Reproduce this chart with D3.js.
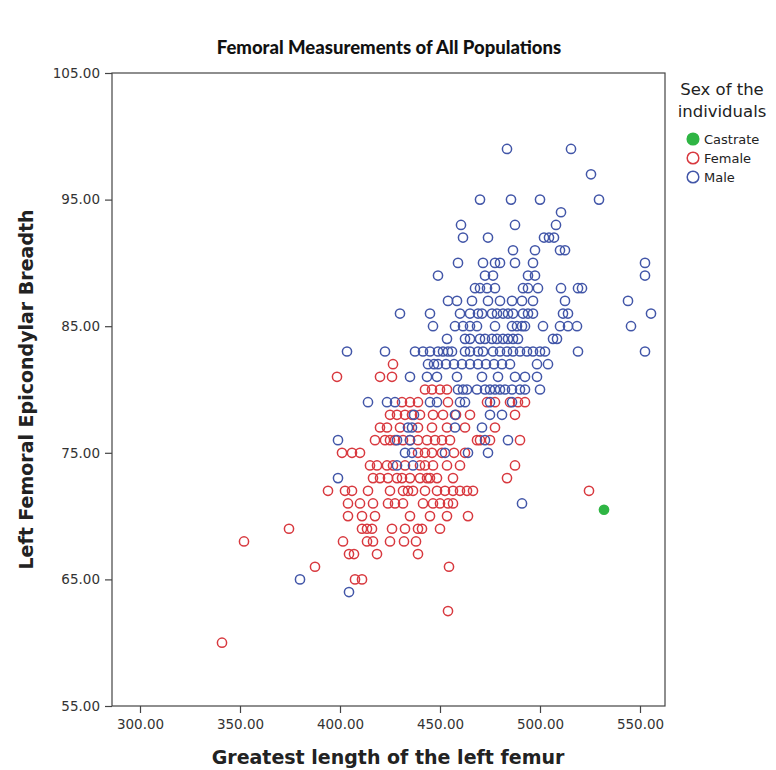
<!DOCTYPE html>
<html>
<head>
<meta charset="utf-8">
<script src="https://cdn.jsdelivr.net/npm/d3@7"></script>
<style>
  html, body { margin: 0; padding: 0; background: #fff; }
  svg { display: block; }
</style>
</head>
<body>
<div id="chart"></div>
<script>
// Greatest length of the left femur (mm) vs left femoral epicondylar breadth (mm)
const male = [
  [483.5,99],[515.5,99],
  [525.5,97],
  [470,95],[485.5,95],[500,95],[529.5,95],
  [510.5,94],
  [460.5,93],[487.5,93],[508,93],
  [461.5,92],[474,92],[502,92],[504.5,92],[507,92],
  [486.5,91],[497.5,91],[510,91],[512.5,91],
  [459,90],[471.5,90],[477.5,90],[480,90],[487.5,90],[496.5,90],[552.5,90],
  [449,89],[472.5,89],[476.5,89],[494,89],[497.5,89],[552.5,89],
  [467.5,88],[470,88],[473.5,88],[477.5,88],[491.5,88],[494,88],[499,88],[510.5,88],[519,88],[521,88],
  [454,87],[458.5,87],[466,87],[474,87],[480,87],[486,87],[491,87],[496.5,87],[512.5,87],[544,87],
  [430,86],[445,86],[460,86],[465,86],[469,86],[471,86],[476,86],[478.5,86],[481.5,86],[484,86],[486.5,86],[491.5,86],[494,86],[496.5,86],[511.5,86],[514,86],[555.5,86],
  [446.5,85],[457.5,85],[461.5,85],[465,85],[468.5,85],[477.5,85],[486,85],[488.5,85],[491,85],[492.5,85],[501.5,85],[510,85],[514,85],[518.5,85],[545.5,85],
  [453.5,84],[462.5,84],[465,84],[470,84],[472.5,84],[476,84],[478.5,84],[481.5,84],[484,84],[486.5,84],[489,84],[506.5,84],[508.5,84],
  [403.5,83],[422.5,83],[437.5,83],[441.5,83],[445,83],[449,83],[451.5,83],[454,83],[456,83],[462.5,83],[465,83],[469,83],[471.5,83],[476.5,83],[480,83],[483.5,83],[486.5,83],[490,83],[493.5,83],[496.5,83],[500,83],[502.5,83],[519,83],[552.5,83],
  [444,82],[447,82],[449,82],[453,82],[457,82],[461,82],[465,82],[469,82],[473,82],[477,82],[481,82],[485,82],[498.5,82],[504,82],
  [435,81],[443.5,81],[448.5,81],[458.5,81],[471,81],[479,81],[487.5,81],[492.5,81],[498.5,81],
  [459,80],[461.5,80],[463.5,80],[468.5,80],[472.5,80],[475,80],[477.5,80],[480,80],[482.5,80],[486,80],[490,80],[492.5,80],[500,80],
  [414,79],[423.5,79],[427.5,79],[445,79],[448.5,79],[460,79],[462.5,79],[475,79],[486,79],
  [437,78],[457.5,78],[475,78],[481,78],
  [434,77],[436,77],[457.5,77],[471,77],
  [399,76],[428.5,76],[435,76],[472.5,76],[484,76],
  [432.5,75],[436,75],[452.5,75],[464,75],[474,75],
  [428.5,74],[436.5,74],
  [399,73],
  [491,71],
  [380,65],
  [404.5,64]
];

const female = [
  [426.5,82],
  [398.5,81],[420,81],[426,81],
  [442.5,80],[446,80],[450,80],[453.5,80],
  [431,79],[435,79],[439,79],[454,79],[473.5,79],[477.5,79],[485,79],[489,79],[492.5,79],
  [425,78],[428.5,78],[432.5,78],[436,78],[440,78],[446.5,78],[451.5,78],[458,78],[465,78],[487.5,78],
  [420,77],[423.5,77],[430,77],[439,77],[446,77],[453.5,77],[462.5,77],[477.5,77],
  [417.5,76],[422.5,76],[425,76],[427.5,76],[431.5,76],[435,76],[439,76],[443.5,76],[447.5,76],[451,76],[455,76],[468.5,76],[470,76],[475,76],[490,76],
  [401,75],[406,75],[410,75],[439,75],[442.5,75],[446,75],[451,75],[457,75],[462.5,75],
  [415,74],[418.5,74],[423.5,74],[426.5,74],[432.5,74],[440,74],[442.5,74],[446.5,74],[453.5,74],[460,74],[487.5,74],
  [416.5,73],[420,73],[424,73],[428.5,73],[431,73],[435,73],[440,73],[443.5,73],[445,73],[448.5,73],[456.5,73],[483.5,73],
  [394,72],[402.5,72],[406,72],[414,72],[425,72],[431.5,72],[434,72],[436.5,72],[442.5,72],[448.5,72],[452.5,72],[456.5,72],[460,72],[463.5,72],[466.5,72],[524.5,72],
  [404,71],[410,71],[416.5,71],[424,71],[427.5,71],[431.5,71],[441.5,71],[446.5,71],[450,71],[454,71],[456.5,71],
  [404,70],[411,70],[417.5,70],[435,70],[445,70],[453.5,70],[464,70],
  [374.5,69],[411,69],[413.5,69],[416,69],[426,69],[432.5,69],[439,69],[441,69],[450,69],
  [352,68],[401.5,68],[413.5,68],[416.5,68],[425,68],[432,68],[438,68],
  [404.5,67],[407,67],[418.5,67],[439,67],
  [387.5,66],[454.5,66],
  [407.5,65],[411,65],
  [454,62.5],
  [341,60]
];

const castrate = [
  [532,70.5]
];

const xTicks = [300, 350, 400, 450, 500, 550];
const yTicks = [55, 65, 75, 85, 95, 105];
const legendTitle = ["Sex of the", "individuals"];
const groups = [
  { name: "Castrate", data: castrate, color: "#2fb544", filled: true },
  { name: "Female",   data: female,   color: "#d8393f", filled: false },
  { name: "Male",     data: male,     color: "#4256a8", filled: false }
];

const W = 776, H = 770;
const plot = { left: 112, right: 665, top: 73, bottom: 706 };

const svg = d3.select("#chart").append("svg")
  .attr("width", W).attr("height", H);

const x = d3.scaleLinear().domain([286, 562.5]).range([plot.left, plot.right]);
const y = d3.scaleLinear().domain([55, 105]).range([plot.bottom, plot.top]);
const fmt = d3.format(".2f");

// Title
svg.append("text")
  .attr("x", 389).attr("y", 54)
  .attr("text-anchor", "middle")
  .style("font-family", "Lato, 'Open Sans', sans-serif")
  .style("font-weight", "900")
  .style("font-size", "18.5px")
  .attr("fill", "#111")
  .text("Femoral Measurements of All Populations");

// Axes
const xAxis = svg.append("g")
  .attr("transform", `translate(0,${plot.bottom})`)
  .call(d3.axisBottom(x).tickValues(xTicks).tickFormat(fmt).tickSize(7).tickPadding(6));
const yAxis = svg.append("g")
  .attr("transform", `translate(${plot.left},0)`)
  .call(d3.axisLeft(y).tickValues(yTicks).tickFormat(fmt).tickSize(7).tickPadding(5));

[xAxis, yAxis].forEach(g => {
  g.select(".domain").remove();
  g.selectAll(".tick line").attr("stroke", "#444").attr("stroke-width", 1.2);
  g.selectAll(".tick text")
    .style("font-family", "'DejaVu Sans', sans-serif")
    .style("font-size", "13.5px")
    .attr("fill", "#333");
});

// Plot frame
svg.append("rect")
  .attr("x", plot.left).attr("y", plot.top)
  .attr("width", plot.right - plot.left).attr("height", plot.bottom - plot.top)
  .attr("fill", "none").attr("stroke", "#444").attr("stroke-width", 1.2);

// Axis titles
svg.append("text")
  .attr("x", 388).attr("y", 764)
  .attr("text-anchor", "middle")
  .style("font-family", "'DejaVu Sans', sans-serif")
  .style("font-weight", "bold")
  .style("font-size", "19px")
  .attr("fill", "#222")
  .text("Greatest length of the left femur");

svg.append("text")
  .attr("transform", `translate(33,${(plot.top + plot.bottom) / 2}) rotate(-90)`)
  .attr("text-anchor", "middle")
  .style("font-family", "'DejaVu Sans', sans-serif")
  .style("font-weight", "bold")
  .style("font-size", "19px")
  .attr("fill", "#222")
  .text("Left Femoral Epicondylar Breadth");

// Points: females, then males, then castrate on top
const pts = svg.append("g");
[groups[1], groups[2], groups[0]].forEach(g => {
  pts.append("g").selectAll("circle")
    .data(g.data)
    .join("circle")
    .attr("cx", d => x(d[0]))
    .attr("cy", d => y(d[1]))
    .attr("r", 4.6)
    .attr("fill", g.filled ? g.color : "none")
    .attr("stroke", g.color)
    .attr("stroke-width", 1.5);
});

// Legend
const lg = svg.append("g");
lg.selectAll("text.lt")
  .data(legendTitle)
  .join("text")
  .attr("class", "lt")
  .attr("x", 722).attr("y", (d, i) => 95 + i * 22)
  .attr("text-anchor", "middle")
  .style("font-family", "'DejaVu Sans', sans-serif")
  .style("font-size", "16.5px")
  .attr("fill", "#222")
  .text(d => d);

const items = lg.selectAll("g.item")
  .data(groups)
  .join("g")
  .attr("class", "item")
  .attr("transform", (d, i) => `translate(693,${139 + i * 19})`);
items.append("circle")
  .attr("r", 5.8)
  .attr("fill", d => d.filled ? d.color : "none")
  .attr("stroke", d => d.color)
  .attr("stroke-width", 1.5);
items.append("text")
  .attr("x", 11).attr("y", 5)
  .style("font-family", "'DejaVu Sans', sans-serif")
  .style("font-size", "13px")
  .attr("fill", "#222")
  .text(d => d.name);
</script>
</body>
</html>
